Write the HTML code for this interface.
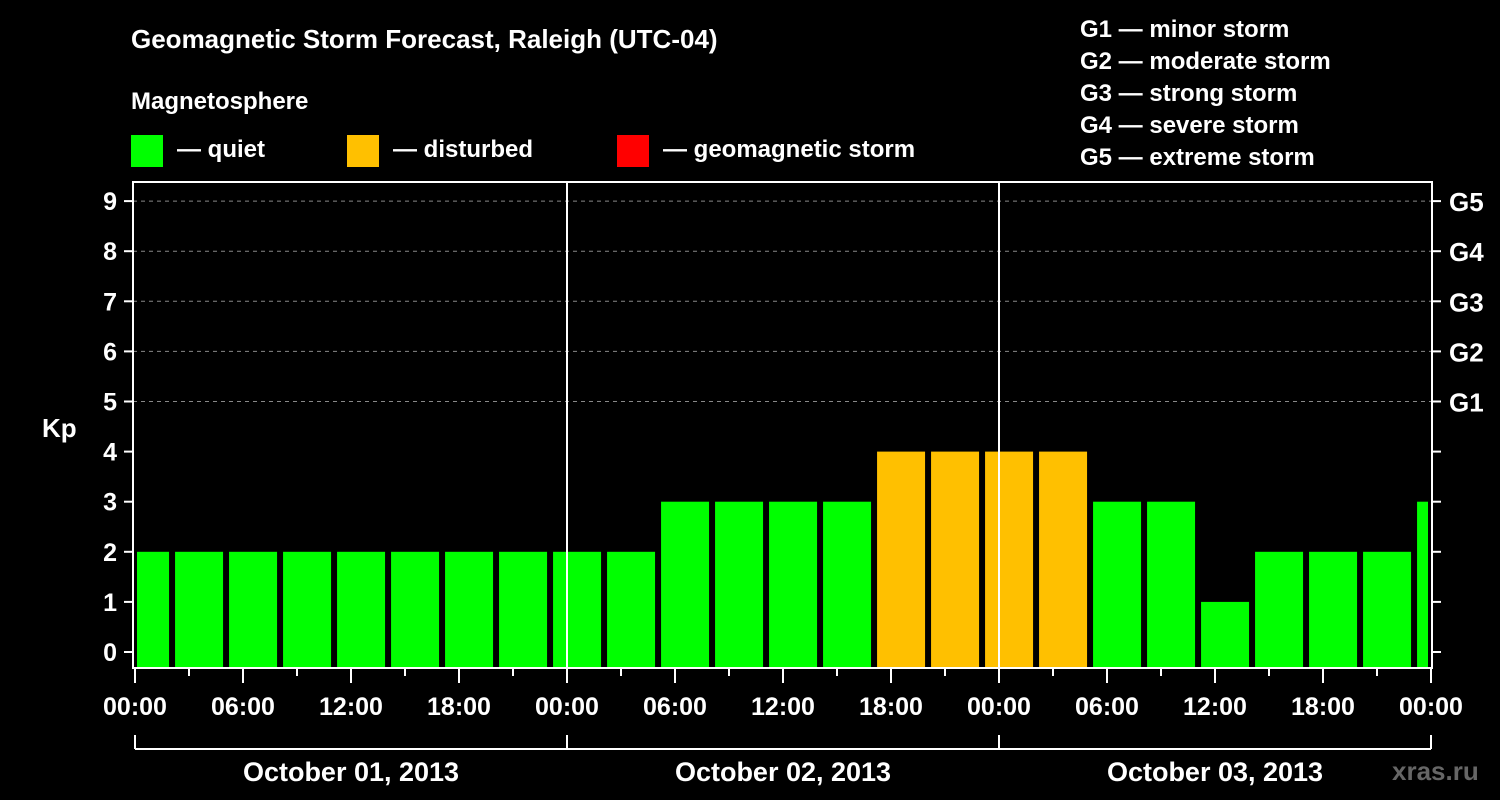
<!DOCTYPE html>
<html><head><meta charset="utf-8"><style>
html,body{margin:0;padding:0;background:#000;}
svg{display:block;font-family:"Liberation Sans",Arial,sans-serif;font-weight:bold;}
</style></head><body>
<svg id="chart" width="1500" height="800" viewBox="0 0 1500 800">
<rect width="1500" height="800" fill="#000"/>
<text x="131" y="48" fill="#fff" font-size="26">Geomagnetic Storm Forecast, Raleigh (UTC-04)</text>
<text x="131" y="109" fill="#fff" font-size="24">Magnetosphere</text>
<g><rect x="131" y="135" width="32" height="32" fill="#00ff00"/><text x="177" y="157" fill="#fff" font-size="24">— quiet</text></g>
<g><rect x="347" y="135" width="32" height="32" fill="#ffc000"/><text x="393" y="157" fill="#fff" font-size="24">— disturbed</text></g>
<g><rect x="617" y="135" width="32" height="32" fill="#ff0000"/><text x="663" y="157" fill="#fff" font-size="24">— geomagnetic storm</text></g>
<g fill="#fff" font-size="24">
<text x="1080" y="37">G1 — minor storm</text>
<text x="1080" y="69">G2 — moderate storm</text>
<text x="1080" y="101">G3 — strong storm</text>
<text x="1080" y="133">G4 — severe storm</text>
<text x="1080" y="165">G5 — extreme storm</text>
</g>
<text x="42" y="437" fill="#fff" font-size="26">Kp</text>
<text x="1392" y="780" fill="#666" font-size="26">xras.ru</text>
<g id="grid"></g><g id="bars"></g><g id="axes"></g>
</svg>
<script>
const kpValues=[2,2,2,2,2,2,2,2,2,2,3,3,3,3,4,4,4,4,3,3,1,2,2,2,3];
const barStartHours=-0.83; // first bar start, hours from Oct 01 00:00
const barHours=3;
const yTicks=[0,1,2,3,4,5,6,7,8,9];
const gLabels=["G1","G2","G3","G4","G5"];
const gLevels=[5,6,7,8,9];
const hourLabels=["00:00","06:00","12:00","18:00"];
const dayLabels=["October 01, 2013","October 02, 2013","October 03, 2013"];
const NS="http://www.w3.org/2000/svg";
const X0=135,PXH=18,L=133,R=1432,T=182,B=668;
const xs=h=>X0+h*PXH;
const ys=v=>652-v*50.1;
function mk(tag,attrs,parent,txt){const e=document.createElementNS(NS,tag);for(const k in attrs)e.setAttribute(k,attrs[k]);if(txt!==undefined)e.textContent=txt;document.getElementById(parent).appendChild(e);return e;}
gLevels.forEach((v,i)=>{
 const l=mk('line',{x1:L,x2:R,y1:ys(v),y2:ys(v),stroke:'#888','stroke-dasharray':'4,4','stroke-width':1},'grid');
 
 
});
kpValues.forEach((v,i)=>{
 let x1=xs(barStartHours+i*barHours)+1,x2=x1+48;
 x1=Math.max(x1,137);x2=Math.min(x2,1428);
 const c=v>=5?'#ff0000':(v>=4?'#ffc000':'#00ff00');
 const r=mk('rect',{x:x1,y:ys(v),width:x2-x1,height:B-ys(v),fill:c},'bars');
 
 
});
// day separators
[1,2].forEach(d=>{const l=mk('line',{x1:xs(24*d),x2:xs(24*d),y1:T,y2:B,stroke:'#fff','stroke-width':2},'axes');
 
 });
const fr=mk('rect',{x:L,y:T,width:R-L,height:B-T,fill:'none',stroke:'#fff','stroke-width':2},'axes');


yTicks.forEach(v=>{
 mk('line',{x1:L-9,x2:L,y1:ys(v),y2:ys(v),stroke:'#fff','stroke-width':2},'axes');
 mk('line',{x1:R,x2:R+9,y1:ys(v),y2:ys(v),stroke:'#fff','stroke-width':2},'axes');
 const t=mk('text',{x:L-16,y:ys(v)+9,fill:'#fff','font-size':25,'text-anchor':'end'},'axes',String(v));
 
 
});
gLevels.forEach((v,i)=>{
 const t=mk('text',{x:1449,y:ys(v)+10,fill:'#fff','font-size':26},'axes',gLabels[i]);
 
 
});
for(let h=0;h<=72;h+=3){
 const major=h%6===0;
 mk('line',{x1:xs(h),x2:xs(h),y1:B,y2:B+(major?15:8),stroke:'#fff','stroke-width':2},'axes');
 if(major){const t=mk('text',{x:xs(h),y:715,fill:'#fff','font-size':25,'text-anchor':'middle'},'axes',hourLabels[(h/6)%4]);
  
  }
}
mk('line',{x1:xs(0),x2:xs(72),y1:749,y2:749,stroke:'#fff','stroke-width':2},'axes');
for(let d=0;d<=3;d++)mk('line',{x1:xs(24*d),x2:xs(24*d),y1:735,y2:749,stroke:'#fff','stroke-width':2},'axes');
dayLabels.forEach((s,d)=>{const t=mk('text',{x:xs(24*d+12),y:781,fill:'#fff','font-size':27,'text-anchor':'middle'},'axes',s);
 
 });
</script>
</body></html>
